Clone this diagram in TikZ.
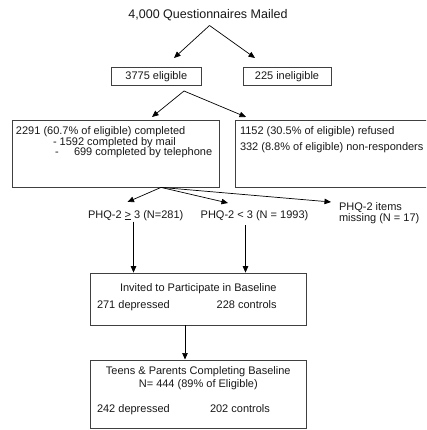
\documentclass[tikz,border=0pt]{standalone}
\usepackage{fontspec}
\setmainfont{Liberation Sans}
\usetikzlibrary{arrows.meta}
\begin{document}
\begin{tikzpicture}[x=1pt,y=-1pt,
  every node/.style={inner sep=0pt, outer sep=0pt, font=\fontsize{11}{12}\selectfont, text=black!90},
  boxc/.style={draw=black!75, line width=0.7pt, rectangle},
  lbl/.style={anchor=base west},
  arr/.style={draw=black, line width=0.7pt, -{Triangle[length=6.5pt,width=5.5pt]}}]
\path[use as bounding box] (0,0) rectangle (426,430);
\fill[white] (0,0) rectangle (426,430);

% title
\node (title) at (208,15) {\fontsize{12.5}{14}\selectfont 4,000 Questionnaires Mailed};
\coordinate (t0) at (209.5,25.5);
\coordinate (t1) at (174,58);
\coordinate (t2) at (255,58);
\draw[arr] (t0) -- (t1);
\draw[arr] (t0) -- (t2);

% eligible / ineligible
\node[boxc, minimum width=89.5pt, minimum height=17.8pt] (elig) at (156.3,76.6) {3775 eligible};
\node[boxc, minimum width=88pt, minimum height=17.8pt] (inel) at (287,76.6) {225 ineligible};

\coordinate (e0) at (184,91);
\coordinate (e1) at (152,117);
\coordinate (e2) at (246,117);
\draw[arr] (e0) -- (e1);
\draw[arr] (e0) -- (e2);

% completed box
\node[boxc, minimum width=207pt, minimum height=66.5pt] (comp) at (115.5,153.75) {};
\node[lbl] (c1) at (16,134.5) {2291 (60.7\% of eligible) completed};
\node[lbl] (c2) at (53,145.5) {- 1592 completed by mail};
\node[lbl] (c3) at (55,156) {-};
\node[lbl] (c4) at (74,156) {699 completed by telephone};

% refused box (extends past right edge)
\begin{scope}
\clip (0,0) rectangle (426,430);
\node[boxc, minimum width=205pt, minimum height=66.5pt] (refu) at (337.5,153.75) {};
\end{scope}
\node[lbl] (r1) at (240,134.5) {1152 (30.5\% of eligible) refused};
\node[lbl] (r2) at (240,151) {332 (8.8\% of eligible) non-responders};

% PHQ branches
\coordinate (p0) at (161,187.4);
\coordinate (p1) at (127.5,202);
\coordinate (p2) at (228,203);
\coordinate (p3) at (331,202);
\draw[arr] (p0) -- (p1);
\draw[arr] (p0) -- (p2);
\draw[arr] (p0) -- (p3);

\node[lbl] (q1) at (88,218) {PHQ-2 \underline{>} 3 (N=281)};
\node[lbl] (q2) at (200.7,218) {PHQ-2 < 3 (N = 1993)};
\node[lbl] (q3) at (339,210) {PHQ-2 items};
\node[lbl] (q4) at (339,221.5) {missing (N = 17)};

% invited box
\node[boxc, minimum width=216.5pt, minimum height=52pt] (inv) at (198.25,299) {};
\node[anchor=base] (i1) at (198.3,291.5) {Invited to Participate in Baseline};
\node[lbl] (i2) at (97,308) {271 depressed};
\node[lbl] (i3) at (216.7,308) {228 controls};

\coordinate (v1a) at (133.5,221.5);
\coordinate (v1b) at (133.5,272.6);
\coordinate (v2a) at (245.5,225);
\coordinate (v2b) at (245.5,272.6);
\draw[arr] (v1a) -- (v1b);
\draw[arr] (v2a) -- (v2b);

% teens box
\node[boxc, minimum width=216.5pt, minimum height=68pt] (teen) at (198.25,394) {};
\node[anchor=base] (n1) at (198.3,374) {Teens \& Parents Completing Baseline};
\node[anchor=base] (n2) at (198.3,387.5) {N= 444 (89\% of Eligible)};
\node[lbl] (n3) at (97,412) {242 depressed};
\node[lbl] (n4) at (210,412) {202 controls};

\coordinate (b1) at (185,325);
\coordinate (b2) at (185,359.5);
\draw[arr] (b1) -- (b2);
\end{tikzpicture}
\end{document}
